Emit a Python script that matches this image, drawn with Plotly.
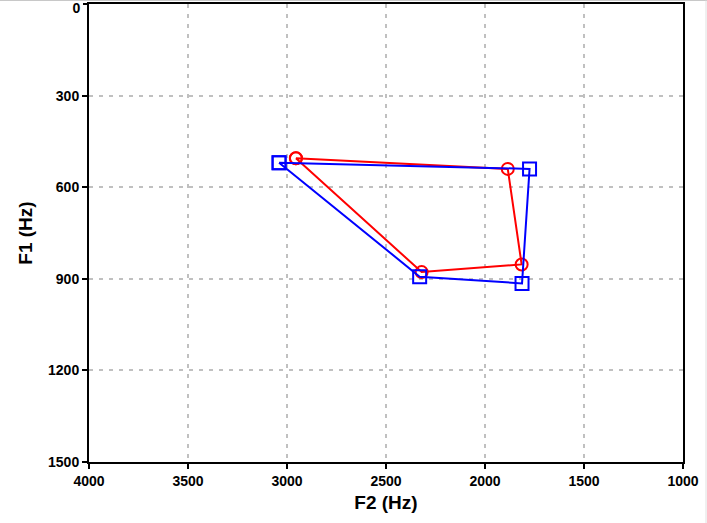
import plotly.graph_objects as go

# Vowel formant data (F2 on x, F1 on y), closed quadrilaterals
red_f2 = [2955, 1885, 1815, 2320]
red_f1 = [505, 540, 853, 878]
blue_f2 = [3040, 1775, 1813, 2330]
blue_f1 = [520, 540, 915, 893]

x_ticks = [4000, 3500, 3000, 2500, 2000, 1500, 1000]
y_ticks = [0, 300, 600, 900, 1200, 1500]

fig = go.Figure()
fig.add_trace(go.Scatter(
    x=red_f2 + red_f2[:1], y=red_f1 + red_f1[:1], mode="lines+markers",
    line=dict(color="#ff0000", width=2),
    marker=dict(symbol="circle-open", size=12, color="#ff0000", line=dict(width=2)),
    showlegend=False, cliponaxis=False))
fig.add_trace(go.Scatter(
    x=blue_f2 + blue_f2[:1], y=blue_f1 + blue_f1[:1], mode="lines+markers",
    line=dict(color="#0000ff", width=2),
    marker=dict(symbol="square-open", size=13, color="#0000ff", line=dict(width=2)),
    showlegend=False, cliponaxis=False))
# empty helper trace so the overlay axis carrying the top tick label is drawn
fig.add_trace(go.Scatter(x=[], y=[], yaxis="y2", showlegend=False, hoverinfo="skip"))

font = "Liberation Sans, Arial, sans-serif"
tickfont = dict(size=14, family=font, color="black", weight="bold")
grid = dict(showgrid=True, gridcolor="#c0c0c0", griddash="4px,6px", gridwidth=1.5)
fig.update_layout(
    width=707, height=523,
    margin=dict(l=89, r=24, t=4, b=61, autoexpand=False),
    paper_bgcolor="white", plot_bgcolor="white",
    font=dict(family=font, color="black"),
    xaxis=dict(
        range=[4000, 1000], tickvals=x_ticks, ticktext=[str(v) for v in x_ticks],
        showline=True, linecolor="black", linewidth=2, mirror=True,
        ticks="outside", ticklen=5, tickwidth=1.5, tickcolor="black",
        zeroline=False, automargin=False, ticklabeloverflow="allow",
        tickfont=tickfont,
        title=dict(text="<b>F2 (Hz)</b>", font=dict(size=19, family=font), standoff=8),
        **grid,
    ),
    yaxis=dict(
        range=[1500, 0], tickvals=y_ticks[1:], ticktext=[str(v) for v in y_ticks[1:]],
        showline=True, linecolor="black", linewidth=2, mirror=True,
        ticks="outside", ticklen=5, tickwidth=1.5, tickcolor="black",
        zeroline=False, automargin=False, ticklabeloverflow="allow",
        tickfont=tickfont,
        title=dict(text="<b>F1 (Hz)</b>", font=dict(size=19, family=font), standoff=10),
        **grid,
    ),
    # top tick label, nudged down a little so it stays inside the page
    yaxis2=dict(
        overlaying="y", side="left", anchor="x",
        range=[1500, 0], tickvals=y_ticks[:1], ticktext=[str(y_ticks[0])],
        showline=False, showgrid=False, zeroline=False,
        ticks="outside", ticklen=5, tickwidth=1.5, tickcolor="black",
        automargin=False, ticklabeloverflow="allow", ticklabelshift=-4,
        tickfont=tickfont,
    ),
)
# thin outer frame lines at top and right edge
fig.add_shape(type="line", xref="paper", yref="paper",
              x0=-89/594, x1=(707-89)/594, y0=1+3.5/458, y1=1+3.5/458,
              line=dict(color="#c8c8c8", width=1))
fig.add_shape(type="line", xref="paper", yref="paper",
              x0=(706-89)/594, x1=(706-89)/594, y0=1+3.5/458, y1=-61/458,
              line=dict(color="#e0e0e0", width=1))

fig.write_html("out.html", post_script="document.body.style.margin='0';",
               config={"displayModeBar": False})
